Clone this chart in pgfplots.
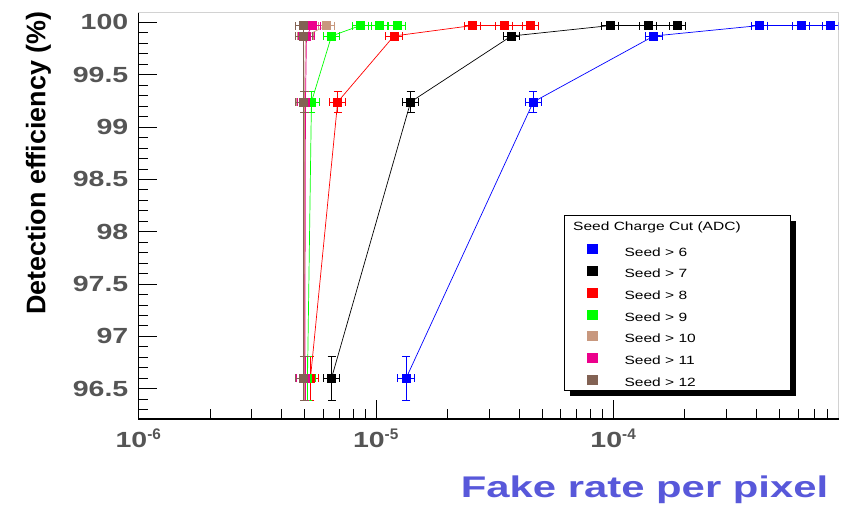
\documentclass[border=0pt]{standalone}
\usepackage{fontspec}
\setmainfont{Liberation Sans}
\usepackage{graphicx}
\usepackage{pgfplots}
\pgfplotsset{compat=1.18}

\definecolor{tickgray}{RGB}{85,85,85}
\definecolor{labelblue}{RGB}{88,88,218}
\definecolor{seedtan}{RGB}{200,152,126}
\definecolor{seedbrown}{RGB}{130,98,84}
\definecolor{framegray}{RGB}{210,210,210}
\newcommand{\wide}[2][1.3]{\scalebox{#1}[1]{#2}}

\pgfplotsset{
  seed/.style={color=#1, mark=square*, mark size=4bp, line width=0.7bp, forget plot,
    error bars/.cd, x dir=both, x explicit relative, y dir=both, y explicit,
    error bar style={line width=0.7bp}},
  box/.style={legend image code/.code={\fill[#1] (0bp,-0.5bp) rectangle (10bp,8.5bp);}},
}

\begin{document}
\begin{tikzpicture}
\useasboundingbox (0,0) rectangle (843bp,507bp);
\begin{axis}[
  name=ax,
  at={(138.5bp,88bp)}, anchor=south west,
  scale only axis, width=700bp, height=406bp,
  xmode=log, xmin=1e-6, xmax=8.87e-4,
  ymin=96.21, ymax=100.09,
  xtick={1e-6,1e-5,1e-4},
  xticklabels={\wide{10}\textsuperscript{-6},\wide{10}\textsuperscript{-5},\wide{10}\textsuperscript{-4}},
  minor xtick={2e-6,3e-6,4e-6,5e-6,6e-6,7e-6,8e-6,9e-6,
               2e-5,3e-5,4e-5,5e-5,6e-5,7e-5,8e-5,9e-5,
               2e-4,3e-4,4e-4,5e-4,6e-4,7e-4,8e-4},
  ytick={96.5,97,97.5,98,98.5,99,99.5,100},
  yticklabels={\wide{96.5},\wide{97},\wide{97.5},\wide{98},\wide{98.5},\wide{99},\wide{99.5},\wide{100}},
  minor ytick={96.3,96.4,96.6,96.7,96.8,96.9,97.1,97.2,97.3,97.4,97.6,97.7,97.8,97.9,
               98.1,98.2,98.3,98.4,98.6,98.7,98.8,98.9,99.1,99.2,99.3,99.4,
               99.6,99.7,99.8,99.9},
  tick pos=left, tick align=inside,
  major tick length=19bp, minor tick length=10bp,
  tick style={black, line width=0.8bp},
  axis line style={framegray, line width=1bp},
  ticklabel style={font=\bfseries\fontsize{22}{22}\selectfont, text=tickgray},
  yticklabel style={inner sep=0pt, xshift=-10bp},
  xticklabel style={inner sep=0pt, yshift=-10bp},
  xlabel={\wide[1.4]{Fake rate per pixel}},
  xlabel style={at={(axis description cs:0.723,-0.175)}, anchor=center,
    font=\bfseries\fontsize{30}{30}\selectfont, text=labelblue},
  ylabel={Detection efficiency (\%)},
  ylabel style={at={(axis description cs:-0.143,0.63)}, anchor=center,
    font=\bfseries\fontsize{27}{27}\selectfont, text=black},
  legend cell align=left,
  legend style={at={(rel axis cs:0.6407,0.4303)}, anchor=north west,
    draw=none, fill=none, inner sep=0pt,
    font=\fontsize{12}{12}\selectfont, row sep=7bp,
    nodes={inner sep=0pt, text height=9bp, text depth=3bp},
    /tikz/every odd column/.append style={column sep=27bp}},
]
\addlegendimage{box=blue}      \addlegendentry{\wide{Seed > 6}}
\addlegendimage{box=black}     \addlegendentry{\wide{Seed > 7}}
\addlegendimage{box=red}       \addlegendentry{\wide{Seed > 8}}
\addlegendimage{box=green}     \addlegendentry{\wide{Seed > 9}}
\addlegendimage{box=seedtan}   \addlegendentry{\wide{Seed > 10}}
\addlegendimage{box=magenta}   \addlegendentry{\wide{Seed > 11}}
\addlegendimage{box=seedbrown} \addlegendentry{\wide{Seed > 12}}

% Seed > 6
\addplot[seed=blue] coordinates {
  (1.34e-5, 96.60) +- (0.08, 0.21)
  (4.60e-5, 99.24) +- (0.08, 0.10)
  (1.48e-4, 99.87) +- (0.08, 0.035)
  (4.12e-4, 99.97) +- (0.08, 0.012)
  (6.17e-4, 99.97) +- (0.08, 0.012)
  (8.20e-4, 99.97) +- (0.08, 0.012)
};
% Seed > 7
\addplot[seed=black] coordinates {
  (6.50e-6, 96.60) +- (0.08, 0.21)
  (1.40e-5, 99.24) +- (0.08, 0.10)
  (3.72e-5, 99.87) +- (0.08, 0.035)
  (9.70e-5, 99.97) +- (0.08, 0.012)
  (1.40e-4, 99.97) +- (0.08, 0.012)
  (1.86e-4, 99.97) +- (0.08, 0.012)
};
% Seed > 8
\addplot[seed=red] coordinates {
  (5.30e-6, 96.60) +- (0.08, 0.21)
  (6.90e-6, 99.24) +- (0.08, 0.10)
  (1.19e-5, 99.87) +- (0.08, 0.035)
  (2.55e-5, 99.97) +- (0.08, 0.012)
  (3.47e-5, 99.97) +- (0.08, 0.012)
  (4.47e-5, 99.97) +- (0.08, 0.012)
};
% Seed > 9
\addplot[seed=green] coordinates {
  (5.15e-6, 96.60) +- (0.08, 0.21)
  (5.35e-6, 99.24) +- (0.08, 0.10)
  (6.50e-6, 99.87) +- (0.08, 0.035)
  (8.60e-6, 99.97) +- (0.08, 0.012)
  (1.035e-5, 99.97) +- (0.08, 0.012)
  (1.23e-5, 99.97) +- (0.08, 0.012)
};
% Seed > 10
\addplot[seed=seedtan] coordinates {
  (5.00e-6, 96.60) +- (0.08, 0.21)
  (5.00e-6, 99.24) +- (0.08, 0.10)
  (5.05e-6, 99.87) +- (0.08, 0.035)
  (6.20e-6, 99.97) +- (0.08, 0.012)
};
% Seed > 11
\addplot[seed=magenta] coordinates {
  (5.02e-6, 96.60) +- (0.08, 0.21)
  (5.05e-6, 99.24) +- (0.08, 0.10)
  (5.10e-6, 99.87) +- (0.08, 0.035)
  (5.40e-6, 99.97) +- (0.08, 0.012)
};
% Seed > 12
\addplot[seed=seedbrown] coordinates {
  (4.97e-6, 96.60) +- (0.08, 0.21)
  (4.97e-6, 99.24) +- (0.08, 0.10)
  (4.97e-6, 99.87) +- (0.08, 0.035)
  (4.97e-6, 99.97) +- (0.08, 0.012)
};

% legend frame with its shadow, and the legend title
\fill[black] (rel axis cs:0.6164,0.4877) rectangle (rel axis cs:0.9393,0.0567);
\filldraw[fill=white, draw=black, line width=0.8bp]
  (rel axis cs:0.6079,0.5025) rectangle (rel axis cs:0.9307,0.0714);
\node[anchor=base west, inner sep=0pt, font=\fontsize{12}{12}\selectfont]
  at (rel axis cs:0.6207,0.4655) {\wide{Seed Charge Cut (ADC)}};
\end{axis}
\draw[black, line width=1.2bp] (ax.north west) -- (ax.south west) -- (ax.south east);
\end{tikzpicture}
\end{document}
